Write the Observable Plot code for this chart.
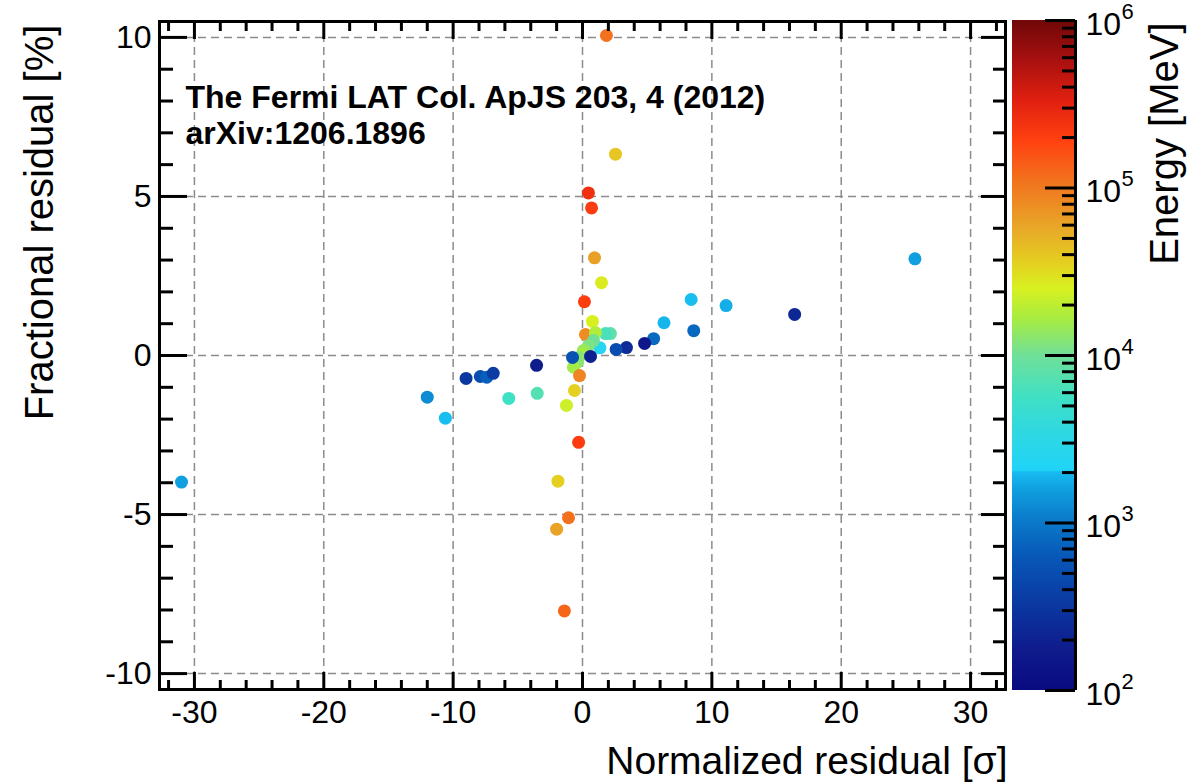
<!DOCTYPE html>
<html><head><meta charset="utf-8">
<script src="https://cdn.jsdelivr.net/npm/d3@7"></script>
<script src="https://cdn.jsdelivr.net/npm/@observablehq/plot@0.6"></script>
<style>
html,body{margin:0;padding:0;background:#fff;}
#wrap{display:flex;width:1202px;height:784px;overflow:hidden;}
#wrap svg{display:block;overflow:visible;}
</style></head><body><div id="wrap"></div>
<script>
// ---- data ----
const normResid = [1.85, 2.55, 0.46, 0.70, 0.93, 1.47, 0.15, 25.7, 8.4, 11.1, 16.4, 8.6, 6.3, 5.5, 4.8, 3.4, 2.6, 1.35, 2.16, 1.78, 0.77, 0.23, 1.0, 0.85, 0.46, 0.08, 0.08, -0.3, -0.39, -0.7, -0.77, 0.62, -0.23, -0.62, -1.24, -0.3, -1.9, -1.08, -2.0, -1.4, -3.55, -3.5, -5.7, -9.0, -7.9, -7.4, -6.9, -12.0, -10.6, -31.0];
const fracResid = [10.06, 6.33, 5.11, 4.64, 3.07, 2.29, 1.69, 3.04, 1.76, 1.57, 1.29, 0.78, 1.03, 0.53, 0.38, 0.25, 0.19, 0.24, 0.69, 0.69, 1.07, 0.66, 0.72, 0.47, 0.31, 0.16, 0.07, -0.06, -0.21, -0.37, -0.06, -0.03, -0.63, -1.1, -1.57, -2.73, -3.95, -5.1, -5.46, -8.03, -0.31, -1.19, -1.35, -0.72, -0.66, -0.68, -0.56, -1.31, -1.97, -3.98];
const energyMeV = [112000, 39800, 251000, 200000, 63100, 26300, 200000, 1580, 2000, 1780, 224, 794, 1900, 794, 158, 251, 501, 2400, 7940, 6310, 25100, 79400, 17800, 10000, 11200, 14100, 15800, 12600, 12600, 15800, 562, 200, 89100, 35500, 22400, 200000, 35500, 112000, 60300, 126000, 178, 7080, 5620, 316, 501, 708, 355, 1260, 2000, 1580];

const xTicks = [-30, -20, -10, 0, 10, 20, 30];
const yTicks = [-10, -5, 0, 5, 10];
const xMinor = [-32, -28, -26, -24, -22, -18, -16, -14, -12, -8, -6, -4, -2, 2, 4, 6, 8, 12, 14, 16, 18, 22, 24, 26, 28, 32];
const yMinor = [-9, -8, -7, -6, -4, -3, -2, -1, 1, 2, 3, 4, 6, 7, 8, 9];
const cbarTicks = [1e2, 1e3, 1e4, 1e5, 1e6];
const cbarExp = ["2", "3", "4", "5", "6"];
const cbarMinor = [2e2,3e2,4e2,5e2,6e2,7e2,8e2,9e2,2e3,3e3,4e3,5e3,6e3,7e3,8e3,9e3,2e4,3e4,4e4,5e4,6e4,7e4,8e4,9e4,2e5,3e5,4e5,5e5,6e5,7e5,8e5,9e5];
const note1 = "The Fermi LAT Col. ApJS 203, 4 (2012)";
const note2 = "arXiv:1206.1896";
const xTitle = "Normalized residual [σ]";
const yTitle = "Fractional residual [%]";
const cTitle = "Energy [MeV]";

// jet-like colour map stops (log10 energy -> colour)
const jetLog = [2, 2.25, 2.55, 2.8, 3.0, 3.2, 3.3, 3.31, 3.55, 3.75, 4.0, 4.22, 4.4, 4.55, 4.76, 5.0, 5.28, 5.52, 5.76, 6.0];
const jetColors = ["#0a0a80", "#0f1c8c", "#0a3ca4", "#0858b8", "#0a78c8", "#10a0e0", "#18bcf0", "#20d4f8", "#30d8e0", "#40e0c4", "#70e098", "#a8ec40", "#d8f020", "#e4d020", "#e8a828", "#f07a20", "#ff4010", "#e02010", "#a81010", "#700808"];

const FONT = "'Liberation Sans', Arial, Helvetica, sans-serif";
const data = normResid.map((x, i) => ({x, y: fracResid[i], e: energyMeV[i]}));
const colorOpts = () => ({type: "log", domain: jetLog.map(v => 10 ** v), range: jetColors, interpolate: "rgb"});

const FW = 846, FH = 668; // frame size in px
const grid = {stroke: "#8c8c8c", strokeWidth: 1.5, strokeDasharray: "8,5"};
const tk = {stroke: "black", strokeWidth: 3};

const main = Plot.plot({
  width: 1012, height: 784,
  marginLeft: 159, marginRight: 7, marginTop: 21, marginBottom: 95,
  style: {fontFamily: FONT, background: "transparent", color: "black"},
  x: {domain: [-32.7, 32.7], axis: null},
  y: {domain: [-10.5, 10.5], axis: null},
  color: colorOpts(),
  marks: [
    Plot.ruleX(xTicks, grid),
    Plot.ruleY(yTicks, grid),
    Plot.dot(data, {x: "x", y: "y", fill: "e", r: 6.5}),
    Plot.ruleX(xMinor, {...tk, insetTop: FH - 9}),
    Plot.ruleX(xTicks, {...tk, insetTop: FH - 17}),
    Plot.ruleX(xMinor, {...tk, insetBottom: FH - 10}),
    Plot.ruleX(xTicks, {...tk, insetBottom: FH - 18}),
    Plot.ruleY(yMinor, {...tk, insetRight: FW - 14}),
    Plot.ruleY(yTicks, {...tk, insetRight: FW - 28}),
    Plot.ruleY(yMinor, {...tk, insetLeft: FW - 12}),
    Plot.ruleY(yTicks, {...tk, insetLeft: FW - 24}),
    Plot.frame({stroke: "black", strokeWidth: 3}),
    Plot.axisX(xTicks, {tickSize: 0, tickPadding: 11, fontSize: 32, tickFormat: d => String(d), label: null}),
    Plot.axisY(yTicks, {tickSize: 0, tickPadding: 8, fontSize: 32, tickFormat: d => String(d), label: null}),
    Plot.text([note1], {text: d => d, frameAnchor: "top-left", dx: 26, dy: 86, fontSize: 32, fontWeight: "bold", textAnchor: "start", lineAnchor: "bottom"}),
    Plot.text([note2], {text: d => d, frameAnchor: "top-left", dx: 26, dy: 122, fontSize: 32, fontWeight: "bold", textAnchor: "start", lineAnchor: "bottom"}),
    Plot.text([xTitle], {text: d => d, frameAnchor: "bottom-right", dx: 2, dy: 72, fontSize: 39, textAnchor: "end", lineAnchor: "middle"}),
    Plot.text([yTitle], {text: d => d, frameAnchor: "left", dx: -119, dy: -133, rotate: -90, fontSize: 40, textAnchor: "middle", lineAnchor: "middle"})
  ]
});

// colour bar strips (decorative gradient)
const strips = d3.range(0, 668).map(i => ({
  y1: 10 ** (2 + 4 * i / 668),
  y2: 10 ** (2 + 4 * (i + 1) / 668),
  c: 10 ** (2 + 4 * (i + 0.5) / 668)
}));
const CW = 63;
const cbar = Plot.plot({
  width: 190, height: 784,
  marginLeft: 0, marginRight: 127, marginTop: 20, marginBottom: 94,
  style: {fontFamily: FONT, background: "transparent", color: "black"},
  x: {domain: [0, 1], axis: null},
  y: {type: "log", domain: [1e2, 1e6], axis: null},
  color: colorOpts(),
  marks: [
    Plot.rect(strips, {x1: 0, x2: 1, y1: "y1", y2: "y2", fill: "c", shapeRendering: "crispEdges"}),
    Plot.ruleY(cbarMinor, {...tk, insetLeft: CW - 13}),
    Plot.ruleY(cbarTicks, {...tk, insetLeft: CW - 30}),
    Plot.ruleX([1], {stroke: "black", strokeWidth: 3}),
    Plot.text(cbarTicks, {y: d => d, text: () => "10", frameAnchor: "right", dx: 10, dy: 4, fontSize: 32, textAnchor: "start", lineAnchor: "middle"}),
    Plot.text(cbarTicks, {y: d => d, text: (d, i) => cbarExp[i], frameAnchor: "right", dx: 46, dy: -9, fontSize: 22, textAnchor: "start", lineAnchor: "middle"}),
    Plot.text([cTitle], {text: d => d, frameAnchor: "top-right", dx: 90, dy: 2, rotate: -90, fontSize: 40, textAnchor: "end", lineAnchor: "middle"})
  ]
});

document.getElementById("wrap").append(main, cbar);
</script>
</body></html>
